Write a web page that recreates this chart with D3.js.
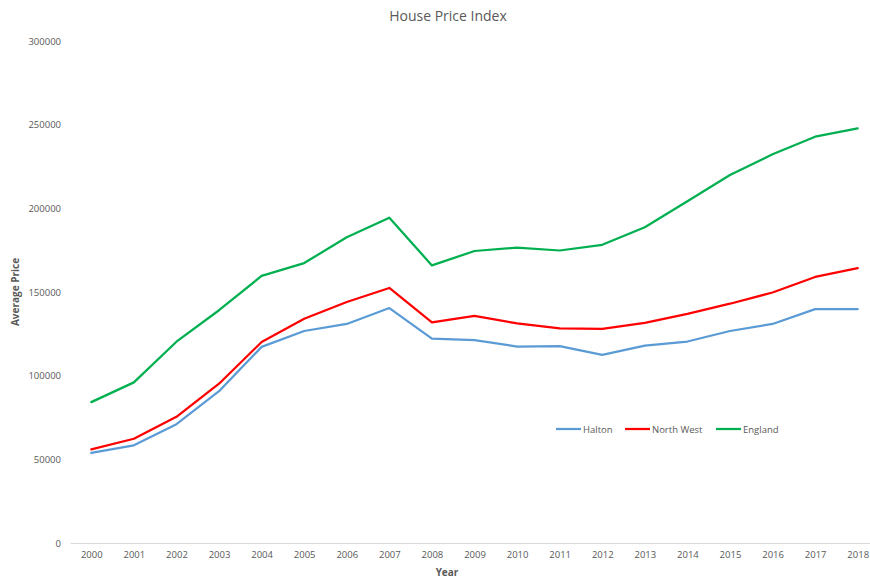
<!DOCTYPE html>
<html>
<head>
<meta charset="utf-8">
<script src="https://cdn.jsdelivr.net/npm/d3@7/dist/d3.min.js"></script>
<style>
  html, body { margin: 0; padding: 0; background: #fff; overflow: hidden; }
  svg { display: block; font-family: "Open Sans", "Noto Sans", sans-serif; }
</style>
</head>
<body>
<svg id="chart" width="870" height="579"></svg>
<script>
const years = ["2000","2001","2002","2003","2004","2005","2006","2007","2008","2009","2010","2011","2012","2013","2014","2015","2016","2017","2018"];
const halton = [53800, 58400, 71000, 90700, 117200, 126700, 130900, 140400, 122100, 121300, 117400, 117700, 112400, 118000, 120400, 126700, 130900, 139800, 139800];
const northWest = [56000, 62300, 75400, 95200, 120100, 134000, 144000, 152400, 131900, 135700, 131200, 128200, 127900, 131500, 136900, 143000, 149700, 159000, 164300];
const england = [84200, 96000, 120300, 139100, 159600, 167300, 182700, 194400, 165900, 174500, 176500, 174800, 178200, 188700, 204200, 219900, 232300, 242800, 247800];
const yTicks = [0, 50000, 100000, 150000, 200000, 250000, 300000];
const seriesNames = ["Halton", "North West", "England"];
const seriesColors = ["#5B9BD5", "#FF0000", "#00B050"];
const seriesValues = [halton, northWest, england];

const svg = d3.select("#chart");
const x0 = 70, x1 = 879, yTop = 41, yBot = 543;

const x = d3.scalePoint().domain(years).range([x0, x1]).padding(0.5);
const y = d3.scaleLinear().domain([0, 300000]).range([yBot, yTop]);

// title
svg.append("text").attr("x", 448).attr("y", 21).attr("text-anchor", "middle")
  .attr("font-size", 14).attr("fill", "#595959").text("House Price Index");

// y axis labels
const yAxis = d3.axisLeft(y).tickValues(yTicks).tickSize(0).tickPadding(0).tickFormat(d3.format("d"));
const gy = svg.append("g").attr("transform", "translate(61,0)").call(yAxis);
gy.select(".domain").remove();
gy.selectAll("text").attr("font-size", 9.5).attr("fill", "#595959").attr("font-family", "Open Sans");

// x axis
const xAxis = d3.axisBottom(x).tickSize(0).tickPadding(8);
const gx = svg.append("g").attr("transform", `translate(0,${yBot})`).call(xAxis);
gx.select(".domain").attr("stroke", "#d9d9d9").attr("stroke-width", 1);
gx.selectAll("text").attr("font-size", 9.5).attr("fill", "#595959").attr("font-family", "Open Sans");

// lines
const line = d3.line().x((d, i) => x(years[i])).y(d => y(d));
seriesValues.forEach((vals, k) => {
  svg.append("path").datum(vals).attr("d", line)
    .attr("fill", "none").attr("stroke", seriesColors[k])
    .attr("stroke-width", 2.25).attr("stroke-linejoin", "round").attr("stroke-linecap", "round");
});

// axis titles
svg.append("text").attr("transform", "translate(19,292) rotate(-90)").attr("text-anchor", "middle")
  .attr("font-size", 10).attr("font-weight", "bold").attr("fill", "#595959").text("Average Price");
svg.append("text").attr("x", 447).attr("y", 576).attr("text-anchor", "middle")
  .attr("font-size", 10).attr("font-weight", "bold").attr("fill", "#595959").text("Year");

// legend
const legendX = [556, 625, 716];
seriesNames.forEach((name, k) => {
  const g = svg.append("g").attr("transform", `translate(${legendX[k]},429)`);
  g.append("line").attr("x1", 0).attr("x2", 25).attr("y1", 0).attr("y2", 0)
    .attr("stroke", seriesColors[k]).attr("stroke-width", 2.25);
  g.append("text").attr("x", 27).attr("y", 3.5).attr("font-size", 9.5).attr("fill", "#595959").text(name);
});
</script>
</body>
</html>
